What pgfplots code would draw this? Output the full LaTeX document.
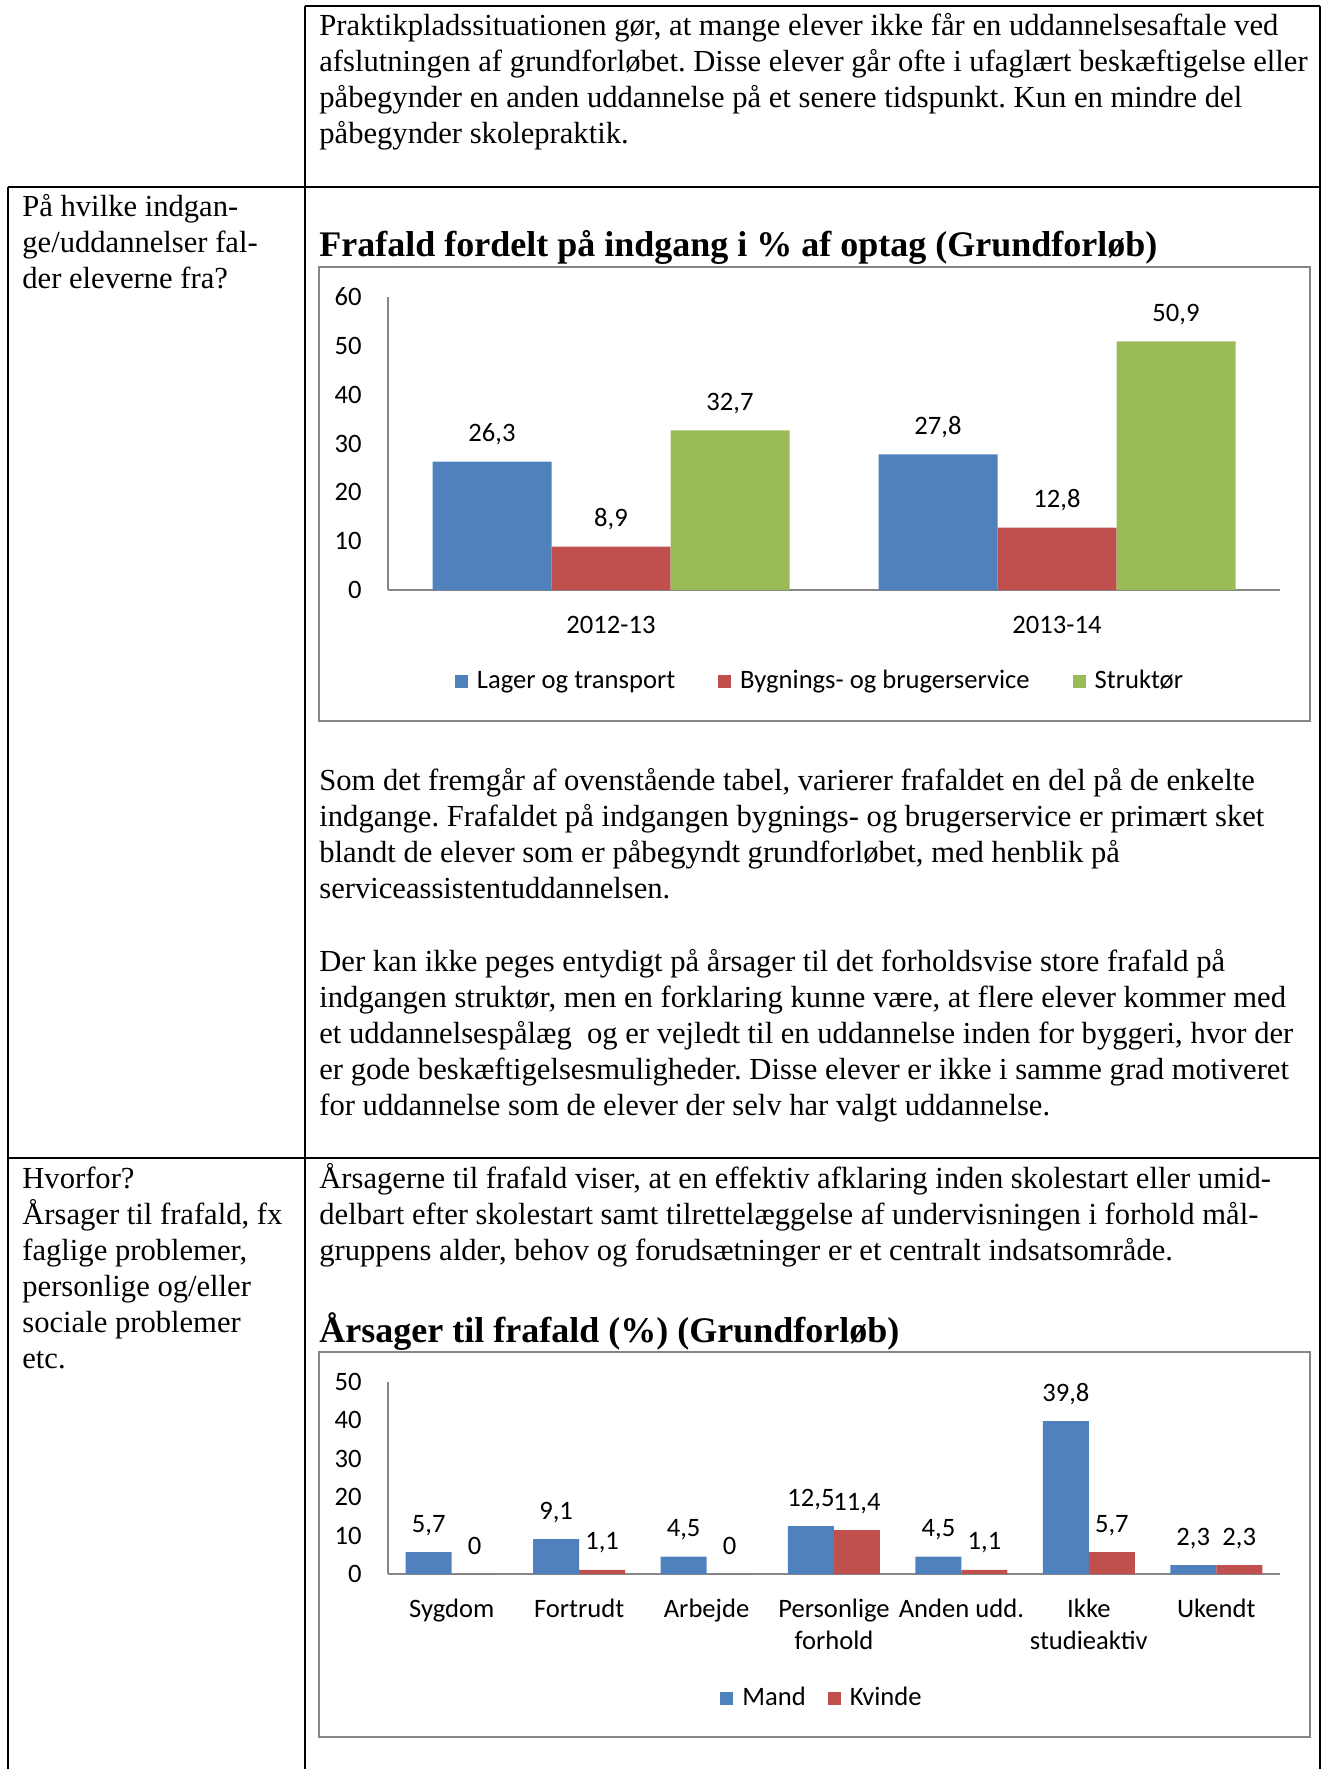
\documentclass[border=0pt]{standalone}
\usepackage{pgfplots}
\pgfplotsset{compat=1.18}
\usepackage{fontspec}
\setmainfont{Liberation Serif}
\newfontfamily\calibri{Carlito}
\frenchspacing
\definecolor{cblue}{HTML}{4F81BD}
\definecolor{cred}{HTML}{C0504D}
\definecolor{cgreen}{HTML}{9BBB59}
\definecolor{cgray}{HTML}{868686}
\newcommand\bodyfont{\fontsize{15.3}{18}\selectfont}
\newcommand\titlefont{\fontsize{18}{20}\selectfont\bfseries}
\newcommand\chartfont{\calibri\fontsize{13.3}{16}\selectfont}
\pgfplotsset{
  excelbar/.style={
    scale only axis, anchor=south west,
    axis lines*=left,
    axis line style={cgray, line width=0.75pt},
    tick style={draw=none},
    enlargelimits=false,
    ymin=0,
    /pgf/number format/.cd, use comma, fixed, precision=1, assume math mode=true, /pgfplots/.cd,
    yticklabel style={anchor=east, inner sep=0pt, xshift=-13pt, font=\chartfont},
    xticklabel style={anchor=base, inner sep=0pt, font=\chartfont, align=center},
    nodes near coords,
    every node near coord/.append style={font=\chartfont, anchor=base, inner sep=0pt, yshift=10pt, black},
    legend columns=-1,
    legend style={draw=none, fill=none, font=\chartfont, anchor=center,
      /tikz/every odd column/.append style={column sep=4.5pt},
      nodes={inner sep=0pt, anchor=west}},
  },
  sq/.style={legend image code/.code={\fill[##1] (0pt,-3.25pt) rectangle (6.5pt,3.25pt);}},
}
\begin{document}
\begin{tikzpicture}
\path[use as bounding box] (0pt,0pt) rectangle (661pt,-884.5pt);
\begin{scope}[x=0.5pt,y=-0.5pt]
% table rules
\draw[line width=1pt] (305,6) -- (1320,6);
\draw[line width=1pt] (305,6) -- (305,1769);
\draw[line width=1pt] (1320,6) -- (1320,1769);
\draw[line width=1pt] (8,187) -- (8,1769);
\draw[line width=1pt] (8,187) -- (1320,187);
\draw[line width=1pt] (8,1158) -- (1320,1158);
% chart frames
\draw[cgray, line width=0.75pt] (319,267) rectangle (1310,721);
\draw[cgray, line width=0.75pt] (319,1352) rectangle (1310,1737);
\tikzset{tl/.style={anchor=base west, inner sep=0pt, font=\bodyfont}}
% row 1
\node[tl] at (319,35) {Praktikpladssituationen gør, at mange elever ikke får en uddannelsesaftale ved};
\node[tl] at (319,71) {afslutningen af grundforløbet. Disse elever går ofte i ufaglært beskæftigelse eller};
\node[tl] at (319,107) {påbegynder en anden uddannelse på et senere tidspunkt. Kun en mindre del};
\node[tl] at (319,143) {påbegynder skolepraktik.};
% row 2
\node[tl] at (22,216) {På hvilke indgan-};
\node[tl] at (22,252) {ge/uddannelser fal-};
\node[tl] at (22,288) {der eleverne fra?};
\node[tl, font=\titlefont] at (319,256) {Frafald fordelt på indgang i \% af optag (Grundforløb)};
\node[tl] at (319,790) {Som det fremgår af ovenstående tabel, varierer frafaldet en del på de enkelte};
\node[tl] at (319,826) {indgange. Frafaldet på indgangen bygnings- og brugerservice er primært sket};
\node[tl] at (319,862) {blandt de elever som er påbegyndt grundforløbet, med henblik på};
\node[tl] at (319,898) {serviceassistentuddannelsen.};
\node[tl] at (319,971) {Der kan ikke peges entydigt på årsager til det forholdsvise store frafald på};
\node[tl] at (319,1007) {indgangen struktør, men en forklaring kunne være, at flere elever kommer med};
\node[tl] at (319,1043) {et uddannelsespålæg\ \ og er vejledt til en uddannelse inden for byggeri, hvor der};
\node[tl] at (319,1079) {er gode beskæftigelsesmuligheder. Disse elever er ikke i samme grad motiveret};
\node[tl] at (319,1115) {for uddannelse som de elever der selv har valgt uddannelse.};
% row 3
\node[tl] at (22,1188) {Hvorfor?};
\node[tl] at (22,1224) {Årsager til frafald, fx};
\node[tl] at (22,1260) {faglige problemer,};
\node[tl] at (22,1296) {personlige og/eller};
\node[tl] at (22,1332) {sociale problemer};
\node[tl] at (22,1368) {etc.};
\node[tl] at (319,1188) {Årsagerne til frafald viser, at en effektiv afklaring inden skolestart eller umid-};
\node[tl] at (319,1224) {delbart efter skolestart samt tilrettelæggelse af undervisningen i forhold mål-};
\node[tl] at (319,1260) {gruppens alder, behov og forudsætninger er et centralt indsatsområde.};
\node[tl, font=\titlefont] at (319,1342) {Årsager til frafald (\%) (Grundforløb)};
\end{scope}
% chart 1
\begin{axis}[excelbar, at={(194pt,-295pt)}, width=446pt, height=146.5pt,
  xmin=-0.5, xmax=1.5, ymax=60, ytick={0,10,...,60},
  xtick={0,1}, xticklabels={2012-13,2013-14},
  xticklabel style={yshift=-17.5pt},
  ybar=0pt, bar width=59.5pt,
  legend style={at={(0.4832,-0.3106)}, /tikz/every even column/.append style={column sep=21.5pt}}]
\addplot[fill=cblue, draw=none, sq] coordinates {(0,26.3) (1,27.8)};
\addplot[fill=cred, draw=none, sq] coordinates {(0,8.9) (1,12.8)};
\addplot[fill=cgreen, draw=none, sq] coordinates {(0,32.7) (1,50.9)};
\legend{Lager og transport, Bygnings- og brugerservice, Struktør}
\end{axis}
% chart 2
\begin{axis}[excelbar, at={(194pt,-787pt)}, width=446pt, height=96pt,
  xmin=-0.5, xmax=6.5, ymax=50, ytick={0,10,...,50},
  xtick={0,...,6},
  xticklabels={{Sygdom\\\strut}, {Fortrudt\\\strut}, {Arbejde\\\strut}, {Personlige\\forhold}, {Anden udd.\\\strut}, {Ikke\\studieaktiv}, {Ukendt\\\strut}},
  xticklabel style={yshift=-33.5pt},
  ybar=0pt, bar width=23pt,
  legend style={at={(0.4854,-0.6458)}, /tikz/every even column/.append style={column sep=11pt}}]
\addplot[fill=cblue, draw=none, sq] coordinates {(0,5.7) (1,9.1) (2,4.5) (3,12.5) (4,4.5) (5,39.8) (6,2.3)};
\addplot[fill=cred, draw=none, sq] coordinates {(0,0) (1,1.1) (2,0) (3,11.4) (4,1.1) (5,5.7) (6,2.3)};
\legend{Mand, Kvinde}
\end{axis}
\end{tikzpicture}
\end{document}
